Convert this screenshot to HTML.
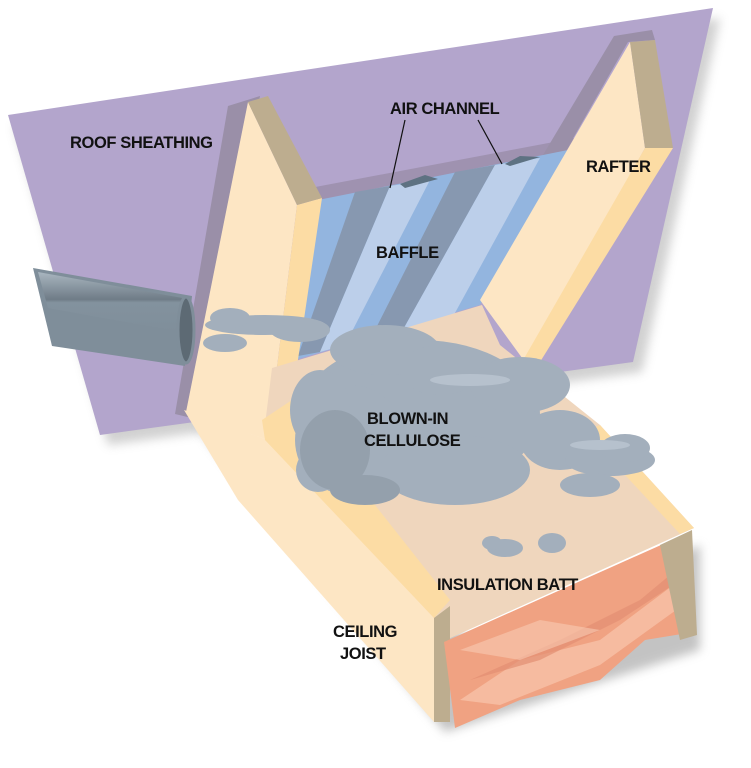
<!DOCTYPE html>
<html><head><meta charset="utf-8"><style>
html,body{margin:0;padding:0;background:#fff;}
svg{display:block}
text{font-family:"Liberation Sans",sans-serif;font-weight:bold;font-size:16.5px;fill:#111;letter-spacing:-0.4px}
</style></head><body>
<svg width="751" height="768" viewBox="0 0 751 768" xmlns="http://www.w3.org/2000/svg">
<defs>
<filter id="sh" x="-20%" y="-20%" width="140%" height="140%"><feGaussianBlur stdDeviation="5"/></filter>
<linearGradient id="duct" x1="0" y1="0" x2="0" y2="1">
<stop offset="0" stop-color="#a9b6c0"/><stop offset="0.45" stop-color="#6f7c87"/><stop offset="0.5" stop-color="#83929e"/><stop offset="1" stop-color="#7f8e9a"/></linearGradient>
</defs>
<polygon points="14,125 720,18 642,372 108,445" fill="#999" opacity="0.45" filter="url(#sh)"/>
<polygon points="195,425 445,732 700,650 700,545 470,640" fill="#888" opacity="0.5" filter="url(#sh)"/>
<polygon points="8,115 713,8 633,362 100,435" fill="#b3a5cc"/>
<polygon points="310,188 575,138 570,152 318,203" fill="#9f92b0"/>
<polygon points="228,106 260,96 200,420 175,414" fill="#9a8fa8"/>
<polygon points="614,36 652,30 655,40 628,42 555,170 540,160" fill="#9a8fa8"/>
<polygon points="318,200 568,150 480,305 288,362" fill="#93b5df"/>
<polygon points="355,192 390,186 320,352 298,356" fill="#8798b0"/>
<polygon points="390,186 430,180 345,345 320,352" fill="#bccfea"/>
<polygon points="455,172 495,165 400,335 370,340" fill="#8798b0"/>
<polygon points="495,165 540,158 450,322 400,335" fill="#bccfea"/>
<polygon points="400,184 425,175 438,179 405,188" fill="#5e7282"/>
<polygon points="505,164 520,156 540,157 510,166" fill="#5e7282"/>
<polygon points="630,42 645,148 525,362 480,300" fill="#fde6c4"/>
<polygon points="645,148 673,148 540,362 522,362" fill="#fcdca4"/>
<polygon points="630,42 655,40 673,148 645,148" fill="#bdad8f"/>
<polygon points="248,102 297,205 268,440 186,412" fill="#fde6c4"/>
<polygon points="297,205 322,198 292,400 268,440" fill="#fcdca4"/>
<polygon points="248,102 268,96 322,198 297,205" fill="#bdad8f"/>
<polygon points="272,368 482,305 500,345 600,425 694,528 446,640 265,425" fill="#efd6bd"/>
<polygon points="600,425 694,528 680,534 585,432" fill="#fcdca4"/>
<polygon points="184,410 268,440 434,618 434,722 238,500" fill="#fde6c4"/>
<polygon points="262,420 292,400 450,600 434,618 265,440" fill="#fcdca4"/>
<polygon points="434,618 450,606 450,722 434,722" fill="#bdad8f"/>
<polygon points="444,642 690,532 694,632 645,640 600,680 520,700 455,728" fill="#f0a282"/>
<polygon points="460,700 520,660 600,640 680,580 690,600 600,665 500,705" fill="#f7c2a8" opacity="0.8"/>
<polygon points="470,680 560,640 640,600 688,560 688,575 620,620 540,660" fill="#e38f72" opacity="0.7"/>
<polygon points="460,650 540,620 600,630 520,660" fill="#f8c9b2" opacity="0.6"/>
<polygon points="660,545 692,530 697,635 680,640" fill="#bdad8f"/>
<g fill="#a3afbc">
<ellipse cx="420" cy="415" rx="120" ry="75"/>
<ellipse cx="385" cy="350" rx="55" ry="25"/>
<ellipse cx="350" cy="440" rx="55" ry="55"/>
<ellipse cx="455" cy="470" rx="75" ry="35"/>
<ellipse cx="520" cy="385" rx="50" ry="28"/>
<ellipse cx="560" cy="440" rx="40" ry="30"/>
<ellipse cx="610" cy="460" rx="45" ry="16"/>
<ellipse cx="625" cy="448" rx="25" ry="14"/>
<ellipse cx="590" cy="485" rx="30" ry="12"/>
<ellipse cx="320" cy="410" rx="30" ry="40"/>
<ellipse cx="318" cy="470" rx="22" ry="22"/>
<ellipse cx="440" cy="370" rx="40" ry="25"/>
<ellipse cx="505" cy="548" rx="18" ry="9"/>
<ellipse cx="552" cy="543" rx="14" ry="10"/>
<ellipse cx="492" cy="543" rx="10" ry="7"/>
<ellipse cx="265" cy="325" rx="60" ry="10"/>
<ellipse cx="230" cy="318" rx="20" ry="10"/>
<ellipse cx="300" cy="330" rx="30" ry="12"/>
<ellipse cx="225" cy="343" rx="22" ry="9"/>
</g>
<g fill="#94a0ac"><ellipse cx="335" cy="450" rx="35" ry="40"/><ellipse cx="365" cy="490" rx="35" ry="15"/></g>
<g fill="#b6c1cd"><ellipse cx="470" cy="380" rx="40" ry="6"/><ellipse cx="600" cy="445" rx="30" ry="5"/></g>
<polygon points="33,268 192,296 185,366 52,346" fill="#7f8e9a"/>
<polygon points="38,272 188,299 186,333 48,308" fill="url(#duct)"/>
<ellipse cx="186" cy="330" rx="8" ry="33" fill="#5d6a74" stroke="#7f8e9a" stroke-width="3"/>
<line x1="405" y1="120" x2="390" y2="188" stroke="#111" stroke-width="1.2"/>
<line x1="478" y1="120" x2="502" y2="164" stroke="#111" stroke-width="1.2"/>
<text x="70" y="148">ROOF SHEATHING</text>
<text x="390" y="114">AIR CHANNEL</text>
<text x="586" y="172">RAFTER</text>
<text x="376" y="258">BAFFLE</text>
<text x="367" y="424">BLOWN-IN</text>
<text x="364" y="446">CELLULOSE</text>
<text x="437" y="590">INSULATION BATT</text>
<text x="333" y="637">CEILING</text>
<text x="340" y="659">JOIST</text>
</svg>
</body></html>
